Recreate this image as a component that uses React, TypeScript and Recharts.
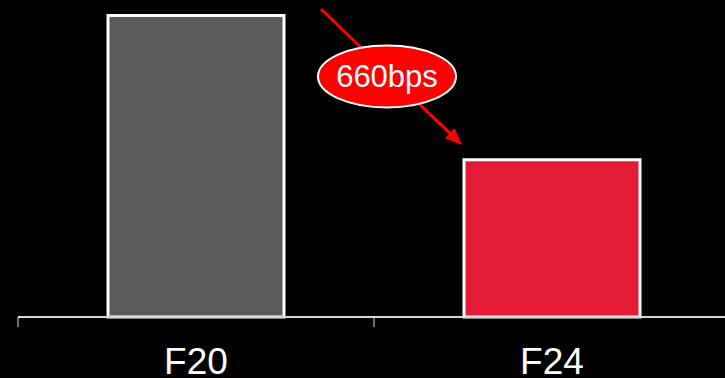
import { BarChart, Bar, XAxis, YAxis, Cell } from "recharts";

const categories = ["F20", "F24"];
const margins = [1380, 720];
const barColors = ["#5a5a5a", "#e31b36"];
const deltaLabel = "660bps";

const W = 725;
const H = 378;
const LEFT = 18;
const BAND = (730 - LEFT) / categories.length;

const data = categories.map((name, i) => ({ name, value: margins[i] }));

function CategoryTick(props: any) {
  const { x, y, payload } = props;
  return (
    <g>
      <line x1={x - BAND / 2} x2={x - BAND / 2} y1={y} y2={y + 10} stroke="#d9d9d9" strokeWidth={1} />
      <text x={x} y={y + 57} textAnchor="middle" fill="#ffffff" fontSize={37} fontFamily="'Liberation Sans', Arial, sans-serif">
        {payload.value}
      </text>
    </g>
  );
}

function DeltaArrow() {
  // arrow from above F20 to the top of F24, with the ellipse label on it
  const x1 = 321, y1 = 9, x2 = 462, y2 = 145;
  const len = Math.hypot(x2 - x1, y2 - y1);
  const ux = (x2 - x1) / len, uy = (y2 - y1) / len;
  const head = 17, half = 7;
  const bx = x2 - ux * head, by = y2 - uy * head;
  const pts = `${x2},${y2} ${bx - uy * half},${by + ux * half} ${bx + uy * half},${by - ux * half}`;
  return (
    <svg width={W} height={H} style={{ position: "absolute", left: 0, top: 0, pointerEvents: "none" }}>
      <line x1={x1} y1={y1} x2={bx + ux * 2} y2={by + uy * 2} stroke="#ff0000" strokeWidth={3} />
      <polygon points={pts} fill="#ff0000" />
      <ellipse cx={387} cy={76.5} rx={69} ry={31} fill="#ff0000" stroke="#ffffff" strokeWidth={2} />
      <text x={387} y={87} textAnchor="middle" fill="#ffffff" fontSize={31} fontFamily="'Liberation Sans', Arial, sans-serif">
        {deltaLabel}
      </text>
    </svg>
  );
}

export default function App() {
  return (
    <div style={{ position: "absolute", left: 0, top: 0, width: W, height: H, background: "#000", overflow: "hidden" }}>
      <BarChart width={730} height={H} data={data} margin={{ top: 15.5, right: 0, bottom: 0, left: LEFT }}>
        <YAxis hide domain={[0, 1380]} />
        <XAxis
          dataKey="name"
          height={61}
          tickSize={0}
          tickMargin={0}
          tickLine={false}
          axisLine={{ stroke: "#d9d9d9", strokeWidth: 2 }}
          tick={<CategoryTick />}
          interval={0}
        />
        <Bar dataKey="value" barSize={176} stroke="#ffffff" strokeWidth={3} isAnimationActive={false}>
          {data.map((d, i) => (
            <Cell key={d.name} fill={barColors[i]} />
          ))}
        </Bar>
      </BarChart>
      <DeltaArrow />
    </div>
  );
}
